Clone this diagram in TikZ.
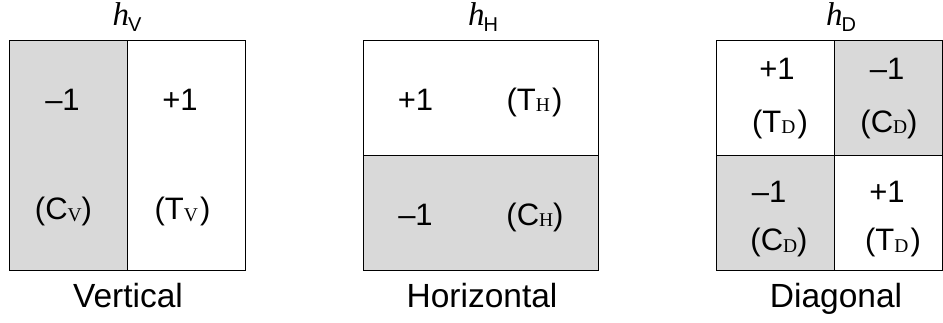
\documentclass[tikz,border=0pt]{standalone}
\usepackage{fontspec}
\setmainfont{Liberation Sans}
\newfontfamily\serifit{Liberation Serif}
\tikzset{
  cellgray/.style={fill=black!15},
  frame/.style={draw=black, line width=1pt},
  lbl/.style={inner sep=0pt, anchor=base, font=\fontsize{31}{33}\selectfont},
  captext/.style={inner sep=0pt, anchor=base, font=\fontsize{33.5}{35}\selectfont},
  htext/.style={inner sep=0pt, anchor=base},
}
\newcommand{\mysub}[1]{\raisebox{-1.5pt}{\serifit\fontsize{19.5}{19.5}\selectfont #1}}
\newcommand{\hlab}[1]{{\serifit\itshape\fontsize{33}{33}\selectfont h}\kern-1pt\raisebox{-6pt}{\fontsize{20}{20}\selectfont #1}}
\begin{document}
\begin{tikzpicture}[x=1pt,y=-1pt]
\useasboundingbox (0,0) rectangle (943,322);
% Vertical
\fill[cellgray] (9.5,40.5) rectangle (127.5,270);
\draw[frame] (9.5,40.5) rectangle (245.5,270);
\draw[frame] (127.5,40.5) -- (127.5,270);
\node[lbl] (v1) at (62.5,110) {–1};
\node[lbl] (v2) at (180,110) {+1};
\node[lbl] (v3) at (63.5,219.5) {(C\mysub{V})};
\node[lbl] (v4) at (182.5,219.5) {(T\mysub{V}\kern2pt)};
\node[htext] (hv) at (127,25) {\hlab{V}};
\node[captext] (cv) at (128,307.5) {Vertical};
% Horizontal
\fill[cellgray] (363,155.5) rectangle (598.5,270);
\draw[frame] (363,40.5) rectangle (598.5,270);
\draw[frame] (363,155.5) -- (598.5,155.5);
\node[lbl] (h1) at (415.5,110) {+1};
\node[lbl] (h2) at (534.5,110) {(T\mysub{H}\kern2pt)};
\node[lbl] (h3) at (415.5,225) {–1};
\node[lbl] (h4) at (535,225) {(C\mysub{H})};
\node[htext] (hh) at (483,25) {\hlab{H}};
\node[captext] (ch) at (482,307.5) {Horizontal};
% Diagonal
\fill[cellgray] (834.5,40.5) rectangle (942.5,155.5);
\fill[cellgray] (716.5,155.5) rectangle (834.5,270);
\draw[frame] (716.5,40.5) rectangle (942.5,270);
\draw[frame] (834.5,40.5) -- (834.5,270);
\draw[frame] (716.5,155.5) -- (942.5,155.5);
\node[lbl] (d1) at (777,79.5) {+1};
\node[lbl] (d2) at (780,132) {(T\mysub{D}\kern2pt)};
\node[lbl] (d3) at (887,79.5) {–1};
\node[lbl] (d4) at (889,132) {(C\mysub{D})};
\node[lbl] (d5) at (769,202.5) {–1};
\node[lbl] (d6) at (779,250.5) {(C\mysub{D})};
\node[lbl] (d7) at (887,202.5) {+1};
\node[lbl] (d8) at (893,250.5) {(T\mysub{D}\kern2pt)};
\node[htext] (hd) at (841,25) {\hlab{D}};
\node[captext] (cd) at (836,307.5) {Diagonal};
\end{tikzpicture}
\end{document}
